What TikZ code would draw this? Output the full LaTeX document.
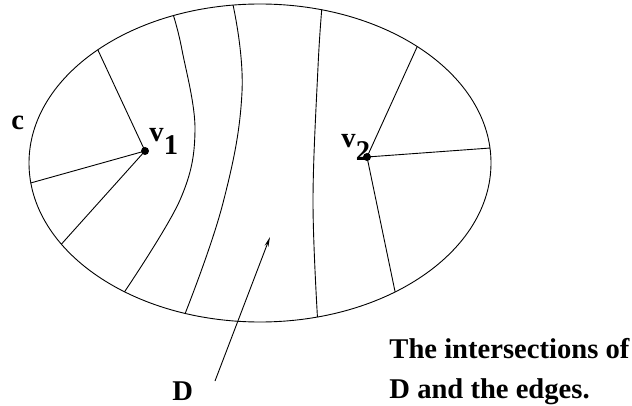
\documentclass[tikz,border=0pt]{standalone}
\usepackage{fontspec}
\setmainfont{Liberation Serif}
\usepackage{tikz}
\usetikzlibrary{arrows.meta}

\begin{document}
\begin{tikzpicture}[x=1pt,y=-1pt,line width=0.9pt,
    font=\fontsize{28.6}{34}\selectfont\bfseries,
    vertex/.style={circle,fill,inner sep=0pt,minimum size=8pt},
    lbl/.style={anchor=base west,inner sep=0pt}]
  \useasboundingbox (0,0) rectangle (632,406);

  % the curve c
  \coordinate (o) at (260,163);
  \draw (o) ellipse [x radius=231,y radius=159];
  \foreach \n/\a in {p1/225.4,p2/172.8,p3/149.3,q1/-47.1,q2/-5.4,q3/54.2,
                     at/-112,ab/125.9,bt/-96.7,bb/108.9,ct/-74.5,cb/75.6}
    \path (o) ++(\a:231 and 159) coordinate (\n);

  % vertices and their edges
  \node[vertex] (v1) at (145,151) {};
  \node[vertex] (v2) at (367,157) {};
  \foreach \p in {p1,p2,p3} \draw (v1.center) -- (\p);
  \foreach \q in {q1,q2,q3} \draw (v2.center) -- (\q);

  % the strips of D
  \draw plot[smooth,tension=0.6] coordinates {(at) (182,50) (195,130) (180,200) (ab)};
  \draw plot[smooth,tension=0.7] coordinates {(bt) (242,92) (223,203) (bb)};
  \draw plot[smooth,tension=0.6] coordinates {(ct) (318,67) (313,200) (cb)};

  % labels
  \node[lbl] (c) at (11,130) {c};
  \node[lbl] (l1) at (149,142) {v\raisebox{-0.45em}{1}};
  \node[lbl] (l2) at (341,148) {v\raisebox{-0.42em}{2}};
  \node[lbl] (d) at (172,400) {D};
  \coordinate (dtail) at (215,381);
  \coordinate (dhead) at (270,237);
  \draw[-{Stealth[length=10pt,width=4pt]}] (dtail) -- (dhead);

  \node[lbl] (t1) at (389,358) {The intersections of};
  \node[lbl] (t2) at (389,398) {D and the edges.};
\end{tikzpicture}
\end{document}
